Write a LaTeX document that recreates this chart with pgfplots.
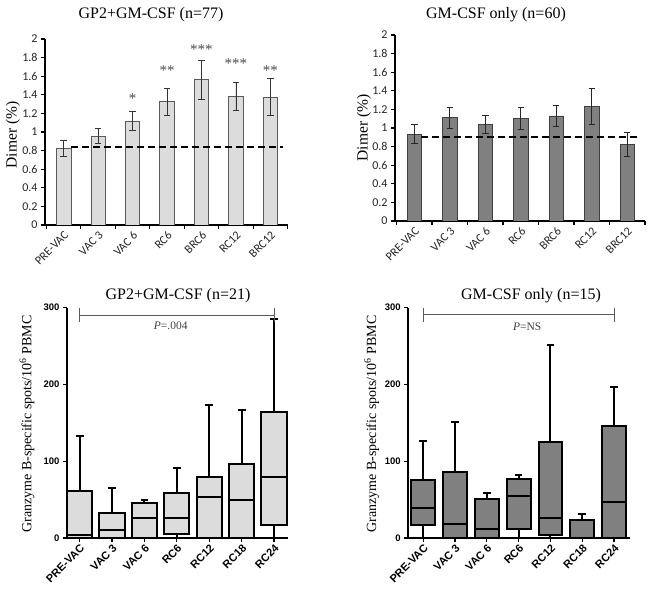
\documentclass[border=0pt]{standalone}
\usepackage{fontspec}
\setmainfont{Liberation Serif}
\newfontfamily\calibri{Carlito}
\newfontfamily\arial{Liberation Sans}
\usepackage{pgfplots}
\pgfplotsset{compat=1.18}
\usepgfplotslibrary{statistics}
\definecolor{barlight}{RGB}{220,220,220}
\definecolor{bardark}{RGB}{128,128,128}
\definecolor{edgegray}{RGB}{90,90,90}
\definecolor{brk}{RGB}{90,90,90}

\pgfplotsset{
  /pgfplots/boxplot/every whisker/.style={draw=black, line width=2pt},
  /pgfplots/boxplot/every median/.style={draw=black, line width=2pt},
  /pgfplots/boxplot/every box/.style={draw=black, line width=2pt},
  dimerax/.style={
    anchor=south west, scale only axis,
    ymin=0, ymax=2,
    axis x line*=bottom, axis y line*=left,
    axis line style={line width=1.8pt, black},
    ytick={0,0.2,0.4,0.6,0.8,1,1.2,1.4,1.6,1.8,2},
    xtick={0,1,2,3,4,5,6},
    xticklabels={PRE-VAC,VAC 3,VAC 6,RC6,BRC6,RC12,BRC12},
    minor xtick={-0.5,0.5,1.5,2.5,3.5,4.5,5.5,6.5},
    major x tick style={draw=none},
    minor x tick style={line width=1.2pt, black},
    major y tick style={line width=1.2pt, black},
    tick align=outside, major tick length=4pt, minor tick length=4pt,
    /pgf/number format/assume math mode=true,
    yticklabel style={font=\calibri\fontsize{12}{12}\selectfont, text=black!85},
    xticklabel style={font=\calibri\fontsize{12}{12}\selectfont, text=black!85, rotate=45, anchor=north east, inner sep=1pt},
    ylabel={Dimer (\%)},
    ylabel style={anchor=center, font=\fontsize{15.5}{15.5}\selectfont},
  },
  granzax/.style={
    anchor=south west, scale only axis,
    ymin=0, ymax=300,
    axis x line*=bottom, axis y line*=left,
    axis line style={line width=1.8pt, black},
    ytick={0,100,200,300},
    xtick={0,1,2,3,4,5,6},
    xticklabels={PRE-VAC,VAC 3,VAC 6,RC6,RC12,RC18,RC24},
    tick style={line width=1.2pt, black},
    tick align=outside, major tick length=4pt,
    /pgf/number format/assume math mode=true,
    yticklabel style={font=\arial\bfseries\fontsize{9.5}{9.5}\selectfont},
    xticklabel style={font=\arial\bfseries\fontsize{11}{11}\selectfont, rotate=45, anchor=north east, inner sep=1pt},
    ylabel={Granzyme B-specific spots/10\textsuperscript{6} PBMC},
    ylabel style={anchor=center, font=\fontsize{14}{14}\selectfont},
    boxplot/draw direction=y,
  },
  bx/.style={draw=black, line width=2pt},
}

\begin{document}
\begin{tikzpicture}
\useasboundingbox (0,0) rectangle (650pt,594pt);

% ---------- top left ----------
\begin{axis}[dimerax, at={(45pt,369pt)}, width=243pt, height=186pt,
  xmin=-0.54, xmax=6.51,
  ylabel style={at={(axis description cs:-0.132,0.484)}}]
\addplot[ybar, bar width=0.42, bar shift=0pt, fill=barlight, draw=edgegray, line width=0.6pt,
  error bars/.cd, y dir=both, y explicit,
  error bar style={line width=0.8pt, black!80},
  error mark options={rotate=90, mark size=3.2pt, line width=0.8pt, black!80}]
  coordinates {
  (0,0.82) +- (0,0.085)
  (1,0.955) +- (0,0.08)
  (2,1.12) +- (0,0.10)
  (3,1.325) +- (0,0.145)
  (4,1.563) +- (0,0.21)
  (5,1.387) +- (0,0.15)
  (6,1.376) +- (0,0.197)
  };
\addplot[black, line width=2pt, dash pattern=on 7pt off 4pt] coordinates {(0.22,0.835) (6.37,0.835)};
\node[font=\fontsize{15}{15}\selectfont, text=black!70] at (axis cs:2,1.36) {*};
\node[font=\fontsize{15}{15}\selectfont, text=black!70] at (axis cs:3,1.66) {**};
\node[font=\fontsize{15}{15}\selectfont, text=black!70] at (axis cs:4,1.89) {***};
\node[font=\fontsize{15}{15}\selectfont, text=black!70] at (axis cs:5,1.74) {***};
\node[font=\fontsize{15}{15}\selectfont, text=black!70] at (axis cs:6,1.66) {**};
\end{axis}

% ---------- top right ----------
\begin{axis}[dimerax, at={(395pt,373pt)}, width=250pt, height=186pt,
  xmin=-0.545, xmax=6.5,
  ylabel style={at={(axis description cs:-0.124,0.5)}}]
\addplot[ybar, bar width=0.4, bar shift=0pt, fill=bardark, draw=black!75, line width=0.6pt,
  error bars/.cd, y dir=both, y explicit,
  error bar style={line width=0.8pt, black!85},
  error mark options={rotate=90, mark size=3.2pt, line width=0.8pt, black!85}]
  coordinates {
  (0,0.934) +- (0,0.10)
  (1,1.11) +- (0,0.11)
  (2,1.038) +- (0,0.10)
  (3,1.102) +- (0,0.115)
  (4,1.131) +- (0,0.11)
  (5,1.235) +- (0,0.195)
  (6,0.826) +- (0,0.13)
  };
\addplot[black, line width=2pt, dash pattern=on 7pt off 4pt] coordinates {(0.2,0.9) (6.36,0.9)};
\end{axis}

% ---------- bottom left ----------
\begin{axis}[granzax, at={(67pt,56pt)}, width=221pt, height=230.3pt,
  xmin=-0.39, xmax=6.43,
  ylabel style={at={(axis description cs:-0.181,0.495)}}]
\addplot[bx, fill=barlight, boxplot prepared={draw position=0, lower whisker=0, lower quartile=0, median=4.3, upper quartile=61, upper whisker=133, box extend=0.78, whisker extend=0.24}] coordinates {};
\addplot[bx, fill=barlight, boxplot prepared={draw position=1, lower whisker=0, lower quartile=0, median=10.9, upper quartile=32.6, upper whisker=65, box extend=0.78, whisker extend=0.24}] coordinates {};
\addplot[bx, fill=barlight, boxplot prepared={draw position=2, lower whisker=0, lower quartile=0, median=25.6, upper quartile=45, upper whisker=49, box extend=0.78, whisker extend=0.24}] coordinates {};
\addplot[bx, fill=barlight, boxplot prepared={draw position=3, lower whisker=0, lower quartile=5.2, median=25.6, upper quartile=59, upper whisker=91, box extend=0.78, whisker extend=0.24}] coordinates {};
\addplot[bx, fill=barlight, boxplot prepared={draw position=4, lower whisker=0, lower quartile=0, median=54, upper quartile=79, upper whisker=173, box extend=0.78, whisker extend=0.24}] coordinates {};
\addplot[bx, fill=barlight, boxplot prepared={draw position=5, lower whisker=0, lower quartile=0, median=49, upper quartile=96.5, upper whisker=167, box extend=0.78, whisker extend=0.24}] coordinates {};
\addplot[bx, fill=barlight, boxplot prepared={draw position=6, lower whisker=0, lower quartile=17.4, median=79, upper quartile=164, upper whisker=285, box extend=0.78, whisker extend=0.24}] coordinates {};
\addplot[brk, line width=0.8pt] coordinates {(0,299) (0,282)};
\addplot[brk, line width=0.8pt] coordinates {(0,290.5) (6,290.5)};
\addplot[brk, line width=0.8pt] coordinates {(6,299) (6,282)};
\node[font=\fontsize{11.5}{11.5}\selectfont, text=black!75] at (axis cs:2.81,276) {\textit{P}=.004};
\end{axis}

% ---------- bottom right ----------
\begin{axis}[granzax, at={(408.3pt,56pt)}, width=221.7pt, height=230.3pt,
  xmin=-0.47, xmax=6.5,
  ylabel style={at={(axis description cs:-0.165,0.495)}}]
\addplot[bx, fill=bardark, boxplot prepared={draw position=0, lower whisker=0, lower quartile=16.5, median=39.6, upper quartile=75.2, upper whisker=126, box extend=0.75, whisker extend=0.24}] coordinates {};
\addplot[bx, fill=bardark, boxplot prepared={draw position=1, lower whisker=0, lower quartile=0, median=18.3, upper quartile=85.7, upper whisker=151, box extend=0.75, whisker extend=0.24}] coordinates {};
\addplot[bx, fill=bardark, boxplot prepared={draw position=2, lower whisker=0, lower quartile=0, median=12.2, upper quartile=51.3, upper whisker=58.7, box extend=0.75, whisker extend=0.24}] coordinates {};
\addplot[bx, fill=bardark, boxplot prepared={draw position=3, lower whisker=0, lower quartile=11.7, median=54.3, upper quartile=77, upper whisker=81.7, box extend=0.75, whisker extend=0.24}] coordinates {};
\addplot[bx, fill=bardark, boxplot prepared={draw position=4, lower whisker=0, lower quartile=4.3, median=26.5, upper quartile=125.6, upper whisker=251, box extend=0.75, whisker extend=0.24}] coordinates {};
\addplot[bx, fill=bardark, boxplot prepared={draw position=5, lower whisker=0, lower quartile=0, median=0, upper quartile=23.9, upper whisker=31.7, box extend=0.75, whisker extend=0.24}] coordinates {};
\addplot[bx, fill=bardark, boxplot prepared={draw position=6, lower whisker=0, lower quartile=0, median=47.4, upper quartile=146.5, upper whisker=196.5, box extend=0.75, whisker extend=0.24}] coordinates {};
\addplot[brk, line width=0.8pt] coordinates {(0,299) (0,282)};
\addplot[brk, line width=0.8pt] coordinates {(0,291) (6,291)};
\addplot[brk, line width=0.8pt] coordinates {(6,299) (6,282)};
\node[font=\fontsize{11.5}{11.5}\selectfont, text=black!75] at (axis cs:3.27,275) {\textit{P}=NS};
\end{axis}

% ---------- titles ----------
\node[font=\fontsize{16}{16}\selectfont] at (151pt,579pt) {GP2+GM-CSF (n=77)};
\node[font=\fontsize{16}{16}\selectfont] at (496pt,579pt) {GM-CSF only (n=60)};
\node[font=\fontsize{16}{16}\selectfont] at (178pt,298pt) {GP2+GM-CSF (n=21)};
\node[font=\fontsize{16}{16}\selectfont] at (531pt,298pt) {GM-CSF only (n=15)};
\end{tikzpicture}
\end{document}
